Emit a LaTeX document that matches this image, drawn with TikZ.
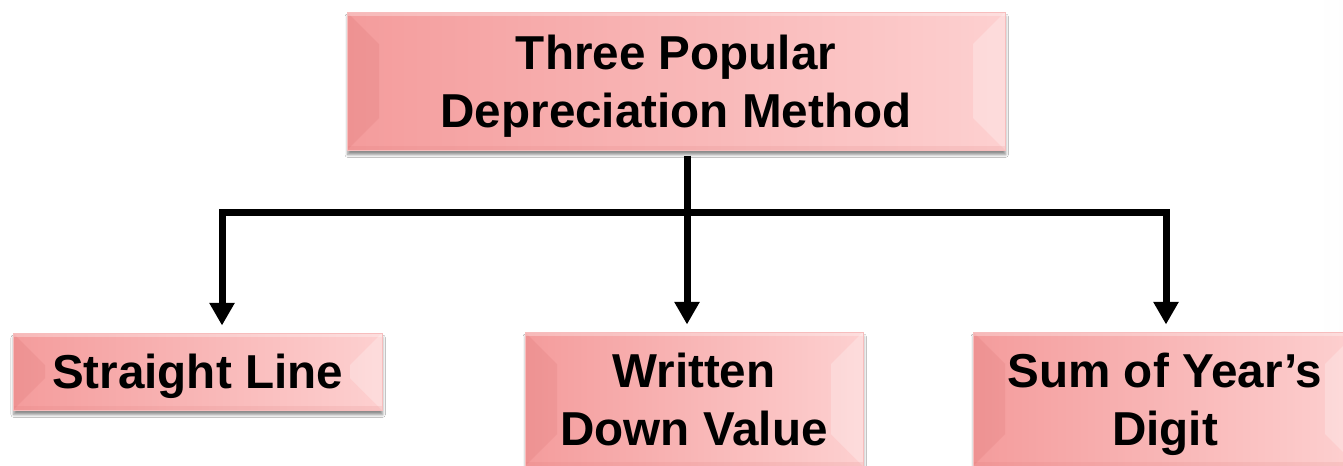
\documentclass[tikz,border=0pt]{standalone}
\usepackage{fontspec}
\setmainfont{Liberation Sans}
\usepackage{xcolor}
\usepackage{tikz}
\usetikzlibrary{arrows.meta,shadows.blur}
\definecolor{bggray}{HTML}{C9C9C9}
\definecolor{bggrayr}{HTML}{D0D0D0}
\definecolor{pinkdeep}{HTML}{F49C9C}
\definecolor{pinklight}{HTML}{FDD0D0}
\definecolor{pinkedge}{HTML}{F7BDBD}
\definecolor{bevelshade}{HTML}{D86A6A}
\pgfdeclarehorizontalshading{backdrop}{100bp}{color(0bp)=(bggray); color(24bp)=(white); color(74bp)=(white); color(100bp)=(bggrayr)}

\begin{document}
\begin{tikzpicture}[
    x=0.75pt, y=-0.75pt,
    method/.style={draw=pinkedge, line width=0.75pt, left color=pinkdeep, right color=pinklight,
        align=center, inner sep=0pt, text depth=0pt, font=\fontsize{35.7}{43.5}\selectfont\bfseries,
        blur shadow={shadow xshift=0.5pt, shadow yshift=-3.5pt, shadow blur radius=2pt, shadow blur steps=5, shadow opacity=45},
        path picture={
            \fill[bevelshade, opacity=0.18] (path picture bounding box.north west) -- ++(24pt,-24pt)
                -- ([shift={(24pt,24pt)}]path picture bounding box.south west)
                -- (path picture bounding box.south west) -- cycle;
            \fill[white, opacity=0.25] (path picture bounding box.north east) -- ++(-24pt,-24pt)
                -- ([shift={(-24pt,24pt)}]path picture bounding box.south east)
                -- (path picture bounding box.south east) -- cycle;
            \fill[white, opacity=0.3] (path picture bounding box.north west) rectangle
                ([yshift=-3pt]path picture bounding box.north east);
            \fill[bevelshade, opacity=0.12] (path picture bounding box.south west) rectangle
                ([yshift=3pt]path picture bounding box.south east);
        }},
    link/.style={line width=5.25pt, line join=miter},
    arrow/.style={link, -{Triangle[length=17pt, width=18pt]}}
]

% Page and backdrop
\useasboundingbox (0,0) rectangle (1343,465);
\shade[shading=backdrop] (0,0) rectangle (1343,465);
\clip (0,0) rectangle (1343,465);

% Boxes
\node[method, minimum width=493.5pt, minimum height=103.5pt] (methods) at (676,81) {Three Popular\\Depreciation Method};
\node[method, minimum width=276.75pt, minimum height=57.75pt] (straight) at (197.5,371.5) {Straight Line};
\node[method, minimum width=253.5pt, minimum height=100.5pt] (wdv) at (694,399) {Written\\Down Value};
\node[method, minimum width=288pt, minimum height=100.5pt] (soyd) at (1165,399) {Sum of Year's\\Digit};

% Connectors
\coordinate (hub) at (687,212);
\coordinate (lturn) at (222,212);
\coordinate (rturn) at (1166,212);
\draw[link, shorten <=3.75pt] (methods.south -| hub) -- (hub);
\draw[arrow, shorten >=5.25pt] (hub) -- (lturn) -- (lturn |- straight.north);
\draw[arrow, shorten >=5.25pt] (hub) -- (rturn) -- (rturn |- soyd.north);
\draw[arrow, shorten >=5.25pt] (hub) -- (hub |- wdv.north);

\end{tikzpicture}
\end{document}
